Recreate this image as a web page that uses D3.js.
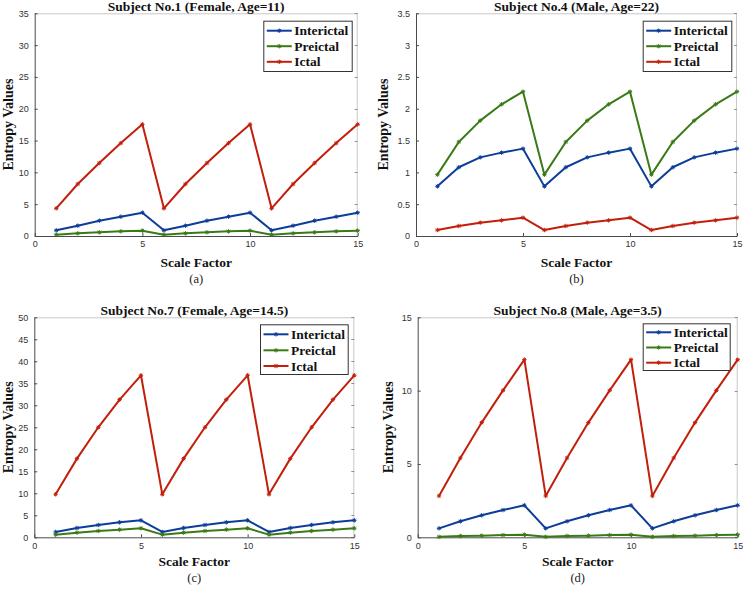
<!DOCTYPE html>
<html>
<head>
<meta charset="utf-8">
<script src="https://cdn.jsdelivr.net/npm/d3@7"></script>
<style>
  html, body { margin: 0; padding: 0; background: #fff; }
  svg { display: block; }
</style>
</head>
<body>
<svg id="chart" width="743" height="589"></svg>
<script>
// ---------------- DATA ----------------
const scaleFactors = [1, 2, 3, 4, 5, 6, 7, 8, 9, 10, 11, 12, 13, 14, 15];
const seriesNames = ["Interictal", "Preictal", "Ictal"];
const xTicks = [0, 5, 10, 15];

const s1Interictal = [0.89, 1.62, 2.41, 3.04, 3.67, 0.89, 1.62, 2.41, 3.04, 3.67, 0.89, 1.62, 2.41, 3.04, 3.67];
const s1Preictal   = [0.21, 0.42, 0.58, 0.73, 0.84, 0.21, 0.42, 0.58, 0.73, 0.84, 0.21, 0.42, 0.58, 0.73, 0.84];
const s1Ictal      = [4.35, 8.17, 11.47, 14.6, 17.55, 4.35, 8.17, 11.47, 14.6, 17.55, 4.35, 8.17, 11.47, 14.6, 17.55];
const s1YTicks = [0, 5, 10, 15, 20, 25, 30, 35];

const s4Interictal = [0.78, 1.08, 1.236, 1.31, 1.373, 0.78, 1.08, 1.236, 1.31, 1.373, 0.78, 1.08, 1.236, 1.31, 1.373];
const s4Preictal   = [0.964, 1.478, 1.813, 2.07, 2.269, 0.964, 1.478, 1.813, 2.07, 2.269, 0.964, 1.478, 1.813, 2.07, 2.269];
const s4Ictal      = [0.094, 0.157, 0.21, 0.246, 0.288, 0.094, 0.157, 0.21, 0.246, 0.288, 0.094, 0.157, 0.21, 0.246, 0.288];
const s4YTicks = [0, 0.5, 1, 1.5, 2, 2.5, 3, 3.5];

const s7Interictal = [1.21, 2.12, 2.8, 3.41, 3.86, 1.21, 2.12, 2.8, 3.41, 3.86, 1.21, 2.12, 2.8, 3.41, 3.86];
const s7Preictal   = [0.6, 1.06, 1.44, 1.74, 2.05, 0.6, 1.06, 1.44, 1.74, 2.05, 0.6, 1.06, 1.44, 1.74, 2.05];
const s7Ictal      = [9.77, 17.88, 25.0, 31.29, 36.82, 9.77, 17.88, 25.0, 31.29, 36.82, 9.77, 17.88, 25.0, 31.29, 36.82];
const s7YTicks = [0, 5, 10, 15, 20, 25, 30, 35, 40, 45, 50];

const s8Interictal = [0.61, 1.09, 1.5, 1.86, 2.18, 0.61, 1.09, 1.5, 1.86, 2.18, 0.61, 1.09, 1.5, 1.86, 2.18];
const s8Preictal   = [0.03, 0.09, 0.11, 0.15, 0.18, 0.03, 0.09, 0.11, 0.15, 0.18, 0.03, 0.09, 0.11, 0.15, 0.18];
const s8Ictal      = [2.82, 5.41, 7.82, 10.02, 12.11, 2.82, 5.41, 7.82, 10.02, 12.11, 2.82, 5.41, 7.82, 10.02, 12.11];
const s8YTicks = [0, 5, 10, 15];

const titles = ["Subject No.1 (Female, Age=11)", "Subject No.4 (Male, Age=22)",
                "Subject No.7 (Female, Age=14.5)", "Subject No.8 (Male, Age=3.5)"];
const captions = ["(a)", "(b)", "(c)", "(d)"];
const yMaxes = [35, 3.5, 50, 15];

// ---------------- LAYOUT / STYLE ----------------
const colors = ["#0c3d98", "#3a7a16", "#c21f0b"];
const serif = "'Liberation Serif', 'Times New Roman', serif";
const sans = "'Liberation Sans', Arial, Helvetica, sans-serif";

const panels = [
  { box: [34.7, 13.3, 357.7, 236], series: [s1Interictal, s1Preictal, s1Ictal], yTicks: s1YTicks,
    yLabelX: 13, xLabY: 267, capY: 283, legend: { l: 263.3, t: 20.7, r: 351.7, b: 71, rows: [30.7, 46.2, 61.8] } },
  { box: [416, 13.3, 737, 236], series: [s4Interictal, s4Preictal, s4Ictal], yTicks: s4YTicks,
    yLabelX: 388, xLabY: 267, capY: 283, legend: { l: 642.7, t: 20.7, r: 731.3, b: 71, rows: [30.7, 46.2, 61.8] } },
  { box: [34.3, 317.3, 354.3, 537.3], series: [s7Interictal, s7Preictal, s7Ictal], yTicks: s7YTicks,
    yLabelX: 13, xLabY: 566.3, capY: 581.5, legend: { l: 260, t: 324.3, r: 347.7, b: 374, rows: [334.3, 350.3, 366] } },
  { box: [417.7, 317.3, 737.7, 537.3], series: [s8Interictal, s8Preictal, s8Ictal], yTicks: s8YTicks,
    yLabelX: 393, xLabY: 566.3, capY: 581.5, legend: { l: 642.7, t: 323.3, r: 729.7, b: 370, rows: [332.3, 347.5, 362.7] } }
];

const svg = d3.select("#chart");

function starPath(x, y, r) {
  const d = r * 0.707;
  return `M${x - r},${y}L${x + r},${y}M${x},${y - r}L${x},${y + r}` +
         `M${x - d},${y - d}L${x + d},${y + d}M${x - d},${y + d}L${x + d},${y - d}`;
}

panels.forEach((p, i) => {
  const [L, T, R, B] = p.box;
  const x = d3.scaleLinear().domain([0, 15]).range([L, R]);
  const y = d3.scaleLinear().domain([0, yMaxes[i]]).range([B, T]);
  const g = svg.append("g");

  // light top/right box
  g.append("line").attr("x1", L).attr("x2", R).attr("y1", T + 0.5).attr("y2", T + 0.5)
    .attr("stroke", "#c8c8c8").attr("stroke-width", 1);
  g.append("line").attr("x1", R - 0.5).attr("x2", R - 0.5).attr("y1", T).attr("y2", B)
    .attr("stroke", "#c8c8c8").attr("stroke-width", 1);
  // right-side ticks
  g.selectAll(".rt").data(p.yTicks).enter().append("line")
    .attr("x1", R - 3).attr("x2", R).attr("y1", d => Math.round(y(d)) + 0.5).attr("y2", d => Math.round(y(d)) + 0.5)
    .attr("stroke", "#909090");

  // Left axis
  const yAxis = d3.axisLeft(y).tickValues(p.yTicks).tickSizeInner(-3).tickSizeOuter(0).tickPadding(6)
    .tickFormat(d => String(d));
  const ya = g.append("g").attr("transform", `translate(${L},0)`).call(yAxis);
  ya.select(".domain").attr("stroke", "#4a4a4a");
  ya.selectAll(".tick line").attr("stroke", "#4a4a4a");
  ya.selectAll(".tick text").attr("font-family", sans).attr("font-size", 9).attr("fill", "#333");

  // Bottom axis
  const xAxis = d3.axisBottom(x).tickValues(xTicks).tickSizeInner(-3).tickSizeOuter(0).tickPadding(5)
    .tickFormat(d => String(d));
  const xa = g.append("g").attr("transform", `translate(0,${B})`).call(xAxis);
  xa.select(".domain").attr("stroke", "#4a4a4a");
  xa.selectAll(".tick line").attr("stroke", "#4a4a4a");
  xa.selectAll(".tick text").attr("font-family", sans).attr("font-size", 9).attr("fill", "#333");

  // Lines
  const line = d3.line().x((d, k) => x(scaleFactors[k])).y(d => y(d));
  p.series.forEach((vals, s) => {
    g.append("path").datum(vals).attr("d", line).attr("fill", "none")
      .attr("stroke", colors[s]).attr("stroke-width", 2).attr("stroke-linejoin", "round");
    g.append("path").attr("d", vals.map((v, k) => starPath(x(scaleFactors[k]), y(v), 2.2)).join(""))
      .attr("stroke", colors[s]).attr("stroke-width", 1).attr("fill", "none");
  });

  // Title
  const cx = (L + R) / 2;
  g.append("text").attr("x", cx).attr("y", T - 2.5).attr("text-anchor", "middle")
    .attr("font-family", serif).attr("font-weight", "bold").attr("font-size", 13.5).attr("fill", "#111")
    .text(titles[i]);
  // X label
  g.append("text").attr("x", cx).attr("y", p.xLabY).attr("text-anchor", "middle")
    .attr("font-family", serif).attr("font-weight", "bold").attr("font-size", 13.5).attr("fill", "#111")
    .text("Scale Factor");
  // Y label
  g.append("text").attr("transform", `translate(${p.yLabelX},${(T + B) / 2}) rotate(-90)`)
    .attr("text-anchor", "middle")
    .attr("font-family", serif).attr("font-weight", "bold").attr("font-size", 14).attr("fill", "#111")
    .text("Entropy Values");
  // Caption
  g.append("text").attr("x", cx).attr("y", p.capY).attr("text-anchor", "middle")
    .attr("font-family", serif).attr("font-size", 12.5).attr("fill", "#222")
    .text(captions[i]);

  // Legend
  const lg = p.legend;
  g.append("rect").attr("x", lg.l + 0.5).attr("y", lg.t + 0.5).attr("width", lg.r - lg.l).attr("height", lg.b - lg.t)
    .attr("fill", "#fff").attr("stroke", "#333").attr("stroke-width", 1);
  seriesNames.forEach((name, s) => {
    const ry = lg.rows[s];
    g.append("line").attr("x1", lg.l + 3.5).attr("x2", lg.l + 28.5).attr("y1", ry).attr("y2", ry)
      .attr("stroke", colors[s]).attr("stroke-width", 2);
    g.append("path").attr("d", starPath(lg.l + 16, ry, 2.2)).attr("stroke", colors[s]).attr("stroke-width", 1);
    g.append("text").attr("x", lg.l + 31).attr("y", ry + 4.6)
      .attr("font-family", serif).attr("font-weight", "bold").attr("font-size", 13.5).attr("fill", "#111")
      .text(name);
  });
});
</script>
</body>
</html>
